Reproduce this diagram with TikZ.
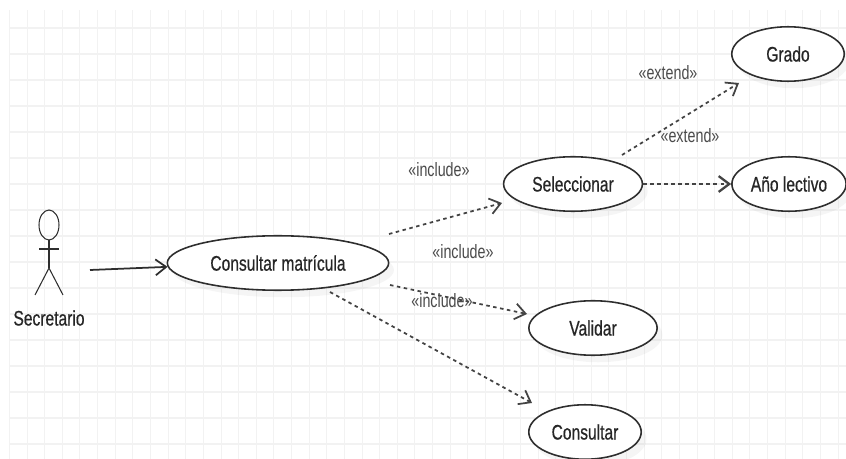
\documentclass[tikz,border=0pt]{standalone}
\usepackage{fontspec}
\setmainfont[FakeStretch=0.74]{Liberation Sans}
\newfontfamily\casefont[FakeStretch=0.74,FakeBold=0.6]{Liberation Sans}
\usetikzlibrary{shapes.geometric,shadows,arrows.meta}
\definecolor{gridgray}{HTML}{F2F2F2}
\definecolor{stereogray}{HTML}{4A4A4A}
\definecolor{linegray}{HTML}{2E2E2E}
\tikzset{
  usecase/.style={ellipse,draw=linegray,line width=0.9pt,fill=white,inner sep=0pt,
    minimum height=31pt,font=\casefont\fontsize{12}{14}\selectfont,text=black!85,
    drop shadow={opacity=0.08,shadow xshift=3pt,shadow yshift=-4pt}},
  stereo/.style={font=\fontsize{11}{13}\selectfont,text=stereogray,inner sep=0pt},
  depends/.style={draw=linegray!90,line width=1pt,dash pattern=on 2pt off 2pt,
    -{Straight Barb[length=6pt,width=9pt]}},
  limb/.style={draw=linegray,line width=0.6pt}
}

\begin{document}
\begin{tikzpicture}[x=0.02cm,y=-0.02cm]
  \useasboundingbox (0,0) rectangle (846,459);
  \clip (0,0) rectangle (846,459);

  % Background grid
  \foreach \gx in {0,...,47} {
    \draw[gridgray,line width=0.5pt] (9.4+17.63*\gx,10) -- (9.4+17.63*\gx,459);
  }
  \foreach \gy in {0,...,16} {
    \draw[gridgray,line width=0.6pt] (10,28+26*\gy) -- (846,28+26*\gy);
  }

  % Actor
  \draw[limb] (49,225) ellipse (10 and 15);
  \draw[limb] (49,240) -- (49,268);
  \draw[limb] (39,249) -- (59,249);
  \draw[limb] (35,295) -- (49,268) -- (63,295);
  \node[font=\casefont\fontsize{12}{14}\selectfont,text=black!85,inner sep=0pt] (secretario) at (49,318) {Secretario};
  \coordinate (actorhand) at (90,270);

  % Use cases
  \node[usecase,minimum width=126pt] (matricula) at (278,263) {Consultar matrícula};
  \node[usecase,minimum width=79pt] (seleccionar) at (573,184) {Seleccionar};
  \node[usecase,minimum width=64pt] (grado) at (788,54) {Grado};
  \node[usecase,minimum width=65pt] (anio) at (789,184) {Año lectivo};
  \node[usecase,minimum width=73pt] (validar) at (593,328) {Validar};
  \node[usecase,minimum width=64pt] (consultar) at (585,432) {Consultar};

  % Free ends of the dashed connectors
  \coordinate (incA) at (389,234);
  \coordinate (incAend) at (502,203);
  \coordinate (incB) at (390,285);
  \coordinate (incBend) at (527,314);
  \coordinate (incC) at (330,292);
  \coordinate (incCend) at (532,403);
  \coordinate (extA) at (622,155);
  \coordinate (extAend) at (739,83);

  % Connectors
  \draw[draw=linegray,line width=1pt,-{Straight Barb[length=6pt,width=9pt]}] (actorhand) -- (matricula.182);
  \draw[depends] (incA) -- (incAend);
  \draw[depends] (incB) -- (incBend);
  \draw[depends] (incC) -- (incCend);
  \draw[depends] (extA) -- (extAend);
  \draw[depends,line width=1.3pt] (seleccionar.east) -- (anio.west);

  % Stereotypes
  \node[stereo] (lblincA) at (439,170) {«include»};
  \node[stereo] (lblincB) at (463,252) {«include»};
  \node[stereo] (lblincC) at (442,301) {«include»};
  \node[stereo] (lblextA) at (668,73) {«extend»};
  \node[stereo] (lblextB) at (690,136) {«extend»};
\end{tikzpicture}
\end{document}
